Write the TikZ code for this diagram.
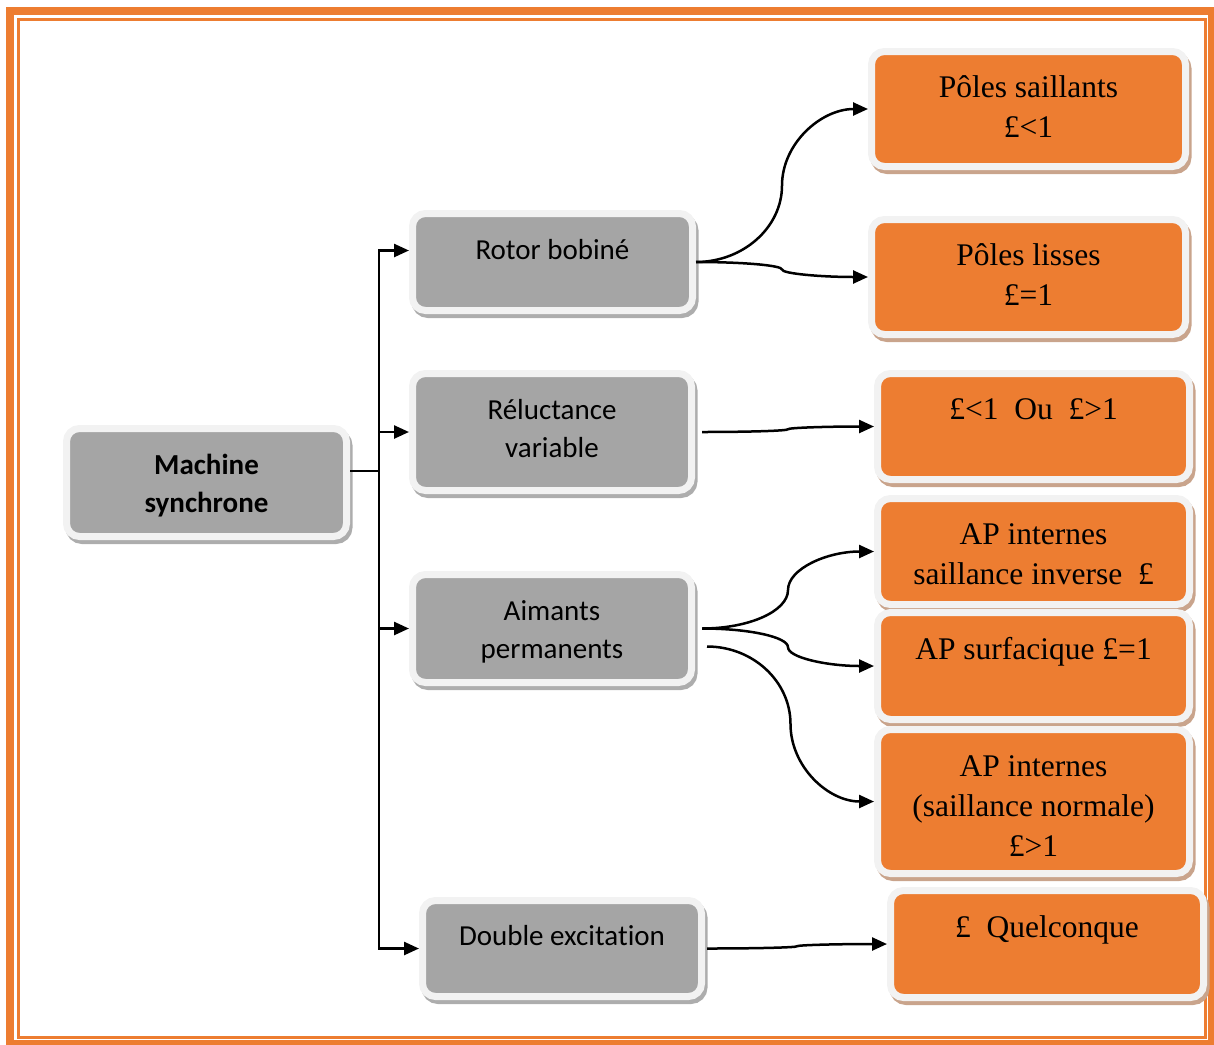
\documentclass[tikz,border=0pt]{standalone}
\usepackage{fontspec}
\setmainfont{Liberation Serif}
\newfontfamily\calfont[Ligatures=NoCommon]{Carlito}
\usetikzlibrary{arrows.meta,calc}
\definecolor{orng}{HTML}{ED7D31}
\definecolor{grfill}{HTML}{A5A5A5}
\definecolor{ringc}{HTML}{F2F2F2}
\definecolor{gshadow}{HTML}{ADADAD}
\definecolor{oshadow}{HTML}{C9A48C}
% first-line top rule and last-line bottom rule to place text inside the boxes
\newcommand{\tp}[1]{\rule{0pt}{#1pt}}
\newcommand{\bt}[1]{\rule[-#1pt]{0pt}{0pt}}
\begin{document}
\begin{tikzpicture}[x=1pt,y=-1pt,
  box/.style={rounded corners=13pt, draw=ringc, line width=7pt, inner sep=0pt, align=center},
  gbox/.style={box, fill=grfill,
    preaction={fill=gshadow, draw=gshadow, line width=7pt, transform canvas={xshift=2.5pt,yshift=-4pt}},
    font=\calfont\fontsize{29}{38}\selectfont},
  obox/.style={box, fill=orng,
    preaction={fill=oshadow, draw=oshadow, line width=7pt, transform canvas={xshift=2.5pt,yshift=-4pt}},
    font=\fontsize{31.5}{40}\selectfont},
  arr/.style={line width=2.5pt, -{Triangle[length=15pt,width=13pt]}},
  trunk/.style={line width=2.5pt},
  frameout/.style={draw=orng, line width=8pt},
  framein/.style={draw=orng, line width=3pt}
]
\useasboundingbox (0,0) rectangle (1214,1044);

% frame
\draw[frameout] (10,11) rectangle (1212,1044);
\draw[framein] (18.5,19.5) rectangle (1205,1037.5);

% gray nodes
\node[gbox, font=\calfont\bfseries\fontsize{29}{38}\selectfont, minimum width=280pt, minimum height=108pt] (ms) at (206.5,482.5) {\tp{30}Machine\\synchrone\bt{9}};
\node[gbox, minimum width=280pt, minimum height=97pt] (rb) at (552.5,262) {\tp{30}Rotor bobiné\bt{36}};
\node[gbox, minimum width=279pt, minimum height=117pt] (rv) at (552,432) {\tp{30}Réluctance\\variable\bt{18}};
\node[gbox, minimum width=279pt, minimum height=108pt] (ap) at (552,628.5) {\tp{30}Aimants\\permanents\bt{9}};
\node[gbox, minimum width=279pt, minimum height=96pt] (de) at (562,948.5) {\tp{30}Double excitation\bt{37}};

% orange nodes
\node[obox, minimum width=314pt, minimum height=115pt] (ps) at (1028.5,109) {\tp{32}Pôles saillants\\£<1\bt{16}};
\node[obox, minimum width=314pt, minimum height=115pt] (pl) at (1028.5,277) {\tp{32}Pôles lisses\\£=1\bt{16}};
\node[obox, minimum width=312pt, minimum height=106pt] (ou) at (1033.5,426.5) {\tp{32}£<1\ \ Ou\ \ £>1\bt{47}};
\node[obox, minimum width=312pt, minimum height=106pt] (api) at (1033.5,551.5) {\tp{32}AP internes\\saillance inverse\ \ £\bt{7}};
\node[obox, minimum width=312pt, minimum height=107pt] (aps) at (1033.5,666) {\tp{32}AP surfacique £=1\bt{46}};
\node[obox, minimum width=312pt, minimum height=144pt] (apn) at (1033.5,801.5) {\tp{36}AP internes\\(saillance normale)\\£>1\bt{7}};
\node[obox, minimum width=313pt, minimum height=107pt] (q) at (1047,944) {\tp{32}£\ \ Quelconque\bt{46}};

% trunk connectors
\coordinate (j) at (379,471);
\draw[trunk] (ms.east |- j) -- (j);
\draw[arr] (j) |- ($(rb.west)+(0,-11.5)$);
\draw[arr] (j) |- (rv.west);
\draw[arr] (j) |- (ap.west);
\draw[arr] (j) |- (de.west);

% curved connectors
\draw[arr] (rb.east) .. controls +(47,0) and +(0,42) .. ($(rb.east)!0.5!(ps.west)$)
  .. controls +(0,-42) and +(-47,0) .. (ps.west);
\draw[arr] (rb.east) .. controls +(47,0) and +(0,-4.1) .. ($(rb.east)!0.5!(pl.west)$)
  .. controls +(0,4.1) and +(-47,0) .. (pl.west);
\coordinate (rvs) at ($(rv.east)+(7,0)$);
\draw[arr] (rvs) .. controls +(47,0) and +(0,1.5) .. ($(rvs)!0.5!(ou.west)$)
  .. controls +(0,-1.5) and +(-47,0) .. (ou.west);
\coordinate (aps1) at ($(ap.east)+(7,0)$);
\coordinate (aps2) at ($(ap.east)+(12,18)$);
\draw[arr] (aps1) .. controls +(47,0) and +(0,21.2) .. ($(aps1)!0.5!(api.west)$)
  .. controls +(0,-21.2) and +(-47,0) .. (api.west);
\draw[arr] (aps1) .. controls +(47,0) and +(0,-10.3) .. ($(aps1)!0.5!(aps.west)$)
  .. controls +(0,10.3) and +(-47,0) .. (aps.west);
\draw[arr] (aps2) .. controls +(46,0) and +(0,-42.6) .. ($(aps2)!0.5!(apn.west)$)
  .. controls +(0,42.6) and +(-46,0) .. (apn.west);
\coordinate (des) at ($(de.east)+(2,0)$);
\draw[arr] (des) .. controls +(49.5,0) and +(0,1.2) .. ($(des)!0.5!(q.west)$)
  .. controls +(0,-1.2) and +(-49.5,0) .. (q.west);
\end{tikzpicture}
\end{document}
